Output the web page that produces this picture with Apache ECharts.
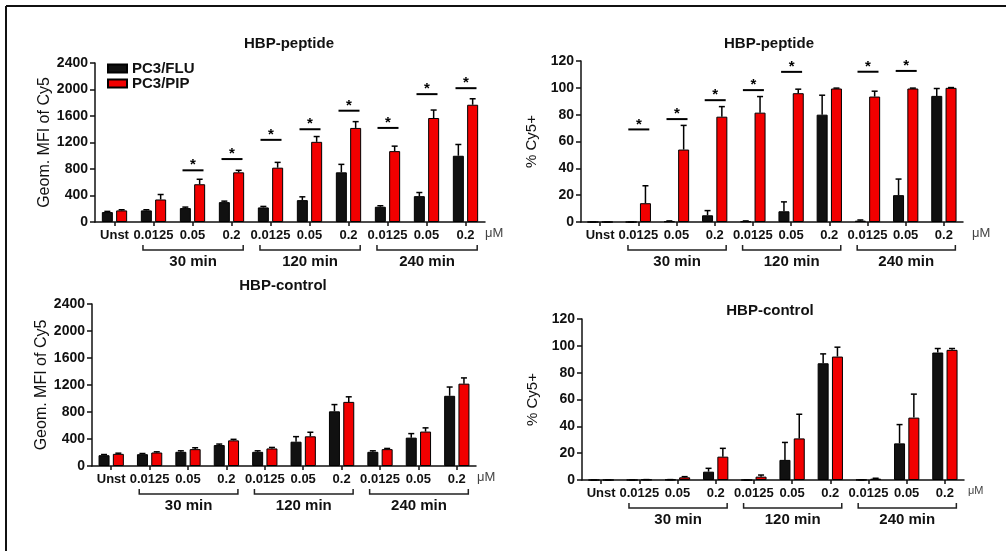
<!DOCTYPE html>
<html><head><meta charset="utf-8">
<script src="https://cdn.jsdelivr.net/npm/echarts@6/dist/echarts.min.js"></script>
<style>html,body{margin:0;padding:0;background:#fff;}#c{width:1006px;height:551px;}</style>
</head><body><div id="c"></div>
<script>
// ---------- data ----------
const categories = ['Unst','0.0125','0.05','0.2','0.0125','0.05','0.2','0.0125','0.05','0.2'];
const groupLabels = ['30 min','120 min','240 min'];
const groupRanges = [[1,3],[4,6],[7,9]];
const seriesNames = ['PC3/FLU','PC3/PIP'];
const panelTitles = ['HBP-peptide','HBP-peptide','HBP-control','HBP-control'];
const yNames = ['Geom. MFI of Cy5','% Cy5+','Geom. MFI of Cy5','% Cy5+'];
const mfiTicks = {min:0, max:2400, interval:400};
const pctTicks = {min:0, max:120, interval:20};
const unitLabel = 'μM';

// top-left: HBP-peptide MFI
const peptideMfiFlu   = [150,175,210,300,220,330,750,230,390,1000];
const peptideMfiFluSd = [10,10,15,15,15,50,120,15,55,170];
const peptideMfiPip   = [175,340,570,750,820,1210,1420,1070,1570,1770];
const peptideMfiPipSd = [10,75,75,30,80,80,95,75,120,90];
const peptideMfiSig   = [null,null,780,950,1240,1400,1680,1420,1930,2020];
// top-right: HBP-peptide % Cy5+
const peptidePctFlu   = [0,0,0.5,5,0.5,8,80,1,20,94];
const peptidePctFluSd = [0,0,0.3,3.5,0.3,7,14.5,0.5,12,5.5];
const peptidePctPip   = [0,14,54,78.5,81.5,96,99.5,93.5,99.5,100];
const peptidePctPipSd = [0,13,18,7.5,12,3,0.3,4,0.3,0.2];
const peptidePctSig   = [null,69,76.7,90.8,98.3,111.9,null,112,112.6,null];
// bottom-left: HBP-control MFI
const controlMfiFlu   = [160,175,210,310,210,360,810,210,420,1040];
const controlMfiFluSd = [10,10,15,15,15,75,100,15,60,130];
const controlMfiPip   = [180,200,250,380,260,440,950,250,510,1220];
const controlMfiPipSd = [10,10,20,15,15,60,75,10,55,85];
// bottom-right: HBP-control % Cy5+
const controlPctFlu   = [0,0,0.3,6.2,0,15,87,0.2,27.3,95];
const controlPctFluSd = [0,0,0,2.5,0,13,7,0,14,3];
const controlPctPip   = [0,0.3,2,17.4,2.5,31,92,1,46.5,97];
const controlPctPipSd = [0,0,0.5,6.2,1.2,18,7,0.3,17.5,1];

// ---------- layout / style ----------
const FONT = '"Liberation Sans", Arial, sans-serif';
const INK = '#111';
const RED = '#f20000';
const BAR_W = 11, BAR_GAP = 0.3;
const panels = [
  {grid:{left:95, width:390, top:63, height:159}, y:mfiTicks, flu:peptideMfiFlu, fluSd:peptideMfiFluSd, pip:peptideMfiPip, pipSd:peptideMfiPipSd, sig:peptideMfiSig, nameGap:40, nameSize:16, unitGap:0, unitSize:13, title:[289,45]},
  {grid:{left:581, width:382, top:61, height:161}, y:pctTicks, flu:peptidePctFlu, fluSd:peptidePctFluSd, pip:peptidePctPip, pipSd:peptidePctPipSd, sig:peptidePctSig, nameGap:42, nameSize:15, unitGap:9, unitSize:13, title:[769,45]},
  {grid:{left:92, width:384, top:304, height:162}, y:mfiTicks, flu:controlMfiFlu, fluSd:controlMfiFluSd, pip:controlMfiPip, pipSd:controlMfiPipSd, sig:null, nameGap:37, nameSize:16, unitGap:1, unitSize:13, title:[283,287]},
  {grid:{left:582, width:382, top:319, height:161}, y:pctTicks, flu:controlPctFlu, fluSd:controlPctFluSd, pip:controlPctPip, pipSd:controlPctPipSd, sig:null, nameGap:42, nameSize:15, unitGap:4, unitSize:11, title:[770,312]}
];

function errRender(sign) {
  return function (params, api) {
    const i = api.value(0), v = api.value(1), e = api.value(2);
    const base = api.coord([i, v]);
    const top = api.coord([i, v + e]);
    const cx = base[0] + sign * (BAR_W * (1 + BAR_GAP)) / 2;
    return {type:'group', children:[
      {type:'line', shape:{x1:cx, y1:base[1], x2:cx, y2:top[1]}, style:{stroke:'#000', lineWidth:1.5}},
      {type:'line', shape:{x1:cx-3, y1:top[1], x2:cx+3, y2:top[1]}, style:{stroke:'#000', lineWidth:1.5}}
    ]};
  };
}
function sigRender(params, api) {
  const p = api.coord([api.value(0), api.value(1)]);
  return {type:'group', children:[
    {type:'line', shape:{x1:p[0]-10, y1:p[1], x2:p[0]+11, y2:p[1]}, style:{stroke:'#000', lineWidth:2}},
    {type:'text', x:p[0]+0.5, y:p[1]-5, style:{text:'*', font:'bold 15px ' + FONT, fill:'#000', textAlign:'center', textVerticalAlign:'middle'}}
  ]};
}

const grid = [], xAxis = [], yAxis = [], series = [], title = [];
panels.forEach((p, k) => {
  grid.push(Object.assign({containLabel:false}, p.grid));
  title.push({text:panelTitles[k], left:p.title[0], top:p.title[1]-9, textAlign:'center', padding:0,
    textStyle:{fontFamily:FONT, fontSize:15, fontWeight:'bold', color:INK}});
  xAxis.push({type:'category', gridIndex:k, data:categories.map((c, i) => i + '_' + c),
    boundaryGap:true,
    name:unitLabel, nameLocation:'end', nameGap:p.unitGap,
    nameTextStyle:{fontFamily:FONT, fontSize:p.unitSize, color:'#444', verticalAlign:'top', padding:[5,0,0,0]},
    axisLine:{show:true, lineStyle:{color:INK, width:1.5}},
    axisTick:{show:true, alignWithLabel:true, interval:0, length:4, lineStyle:{color:INK, width:1.5}},
    axisLabel:{interval:0, margin:7, fontFamily:FONT, fontSize:13, fontWeight:'bold', color:INK,
      formatter:v => v.split('_')[1]},
    splitLine:{show:false}});
  yAxis.push({type:'value', gridIndex:k, min:p.y.min, max:p.y.max, interval:p.y.interval,
    name:yNames[k], nameLocation:'middle', nameGap:p.nameGap,
    nameTextStyle:{fontFamily:FONT, fontSize:p.nameSize, color:INK},
    axisLine:{show:true, lineStyle:{color:INK, width:1.5}},
    axisTick:{show:true, length:5, lineStyle:{color:INK, width:1.5}},
    axisLabel:{margin:7, fontFamily:FONT, fontSize:14, fontWeight:'bold', color:INK,
      formatter:v => String(v)},
    splitLine:{show:false}});
  series.push({type:'bar', name:seriesNames[0], xAxisIndex:k, yAxisIndex:k, data:p.flu,
    barWidth:BAR_W, barGap:(BAR_GAP*100)+'%', itemStyle:{color:INK, borderColor:'#000', borderWidth:1}, z:2});
  series.push({type:'bar', name:seriesNames[1], xAxisIndex:k, yAxisIndex:k, data:p.pip,
    barWidth:BAR_W, barGap:(BAR_GAP*100)+'%', itemStyle:{color:RED, borderColor:'#000', borderWidth:1}, z:2});
  series.push({type:'custom', xAxisIndex:k, yAxisIndex:k, renderItem:errRender(-1), z:3,
    encode:{x:0, y:1}, data:p.flu.map((v, i) => [i, v, p.fluSd[i]])});
  series.push({type:'custom', xAxisIndex:k, yAxisIndex:k, renderItem:errRender(1), z:3,
    encode:{x:0, y:1}, data:p.pip.map((v, i) => [i, v, p.pipSd[i]])});
  if (p.sig) {
    series.push({type:'custom', xAxisIndex:k, yAxisIndex:k, renderItem:sigRender, z:4,
      encode:{x:0, y:1}, data:p.sig.map((v, i) => v == null ? null : [i, v]).filter(d => d)});
  }
});

const chart = echarts.init(document.getElementById('c'), null, {renderer:'canvas'});
chart.setOption({
  animation:false,
  backgroundColor:'#fff',
  textStyle:{fontFamily:FONT},
  title, grid, xAxis, yAxis, series,
  legend:{data:seriesNames, orient:'vertical', left:107, top:61, itemWidth:19, itemHeight:8, itemGap:0,
    icon:'rect', textStyle:{fontFamily:FONT, fontSize:15, fontWeight:'bold', color:INK, lineHeight:15}, padding:0}
});

function buildGraphics() {
  const els = [
    {type:'line', shape:{x1:6, y1:6, x2:1006, y2:6}, style:{stroke:'#111', lineWidth:2}},
    {type:'line', shape:{x1:6, y1:6, x2:6, y2:551}, style:{stroke:'#111', lineWidth:2}}
  ];
  panels.forEach((p, k) => {
    const axisY = chart.convertToPixel({yAxisIndex:k}, 0);
    const c0 = chart.convertToPixel({xAxisIndex:k}, 0);
    const c1 = chart.convertToPixel({xAxisIndex:k}, 1);
    const band = c1 - c0;
    groupRanges.forEach((r, gi) => {
      const x1 = chart.convertToPixel({xAxisIndex:k}, r[0]) - 0.27 * band;
      const x2 = chart.convertToPixel({xAxisIndex:k}, r[1]) + 0.3 * band;
      const y = axisY + 28;
      els.push({type:'polyline', shape:{points:[[x1, y-5], [x1, y], [x2, y], [x2, y-5]]},
        style:{stroke:'#222', lineWidth:1.5, fill:null}});
      els.push({type:'text', x:(x1 + x2) / 2, y:y + 12,
        style:{text:groupLabels[gi], font:'bold 15px ' + FONT, fill:INK, textAlign:'center', textVerticalAlign:'middle'}});
    });
  });
  chart.setOption({graphic:{elements:els}});
}
buildGraphics();
</script>
</body></html>
